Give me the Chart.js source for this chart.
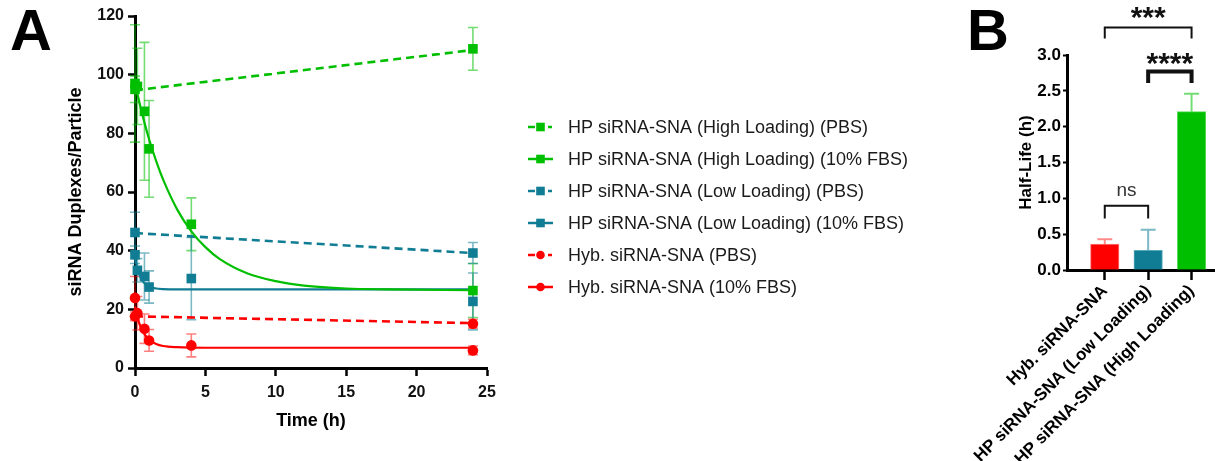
<!DOCTYPE html>
<html><head><meta charset="utf-8">
<script src="https://cdn.jsdelivr.net/npm/chart.js@4.4.1/dist/chart.umd.min.js"></script>
<style>
html,body{margin:0;padding:0;background:#fff;}
#wrap{position:relative;width:1215px;height:461px;overflow:hidden;background:#fff;}
#cA{position:absolute;left:0;top:0;}
#cB{position:absolute;left:960px;top:0;}
</style></head><body>
<div id="wrap"><canvas id="cA" width="960" height="461"></canvas><canvas id="cB" width="255" height="461"></canvas></div>
<script>
// ================= Panel A data =================
const timeTicks = [0, 5, 10, 15, 20, 25];
const yTicksA = [0, 20, 40, 60, 80, 100, 120];
const seriesLabels = [
  'HP siRNA-SNA (High Loading) (PBS)',
  'HP siRNA-SNA (High Loading) (10% FBS)',
  'HP siRNA-SNA (Low Loading) (PBS)',
  'HP siRNA-SNA (Low Loading) (10% FBS)',
  'Hyb. siRNA-SNA (PBS)',
  'Hyb. siRNA-SNA (10% FBS)'
];
const timesPBS = [0, 24];
const timesFBS = [0, 0.17, 0.67, 1, 4, 24];

const highPBS    = [95.0, 108.8];
const highPBSErr = [4.5, 7.3];
const highFBS    = [97.0, 96.0, 87.5, 74.7, 49.0, 26.4];
const highFBSErr = [20.0, 13.0, 23.5, 16.5, 9.0, 9.2];

const lowPBS     = [46.2, 39.2];
const lowPBSErr  = [6.9, 3.6];
const lowFBS     = [38.6, 33.3, 31.2, 27.6, 30.5, 22.7];
const lowFBSErr  = [3.0, 4.0, 8.0, 5.5, 14.0, 9.7];

const hybPBS     = [17.6, 15.1];
const hybPBSErr  = [1.5, 1.5];
const hybFBS     = [23.9, 18.7, 13.4, 9.4, 7.7, 6.0];
const hybFBSErr  = [7.3, 5.7, 5.0, 3.7, 3.9, 1.5];

// fitted lines
const lineTimesPBS = [0, 24];
const lineHighPBS  = [94.7, 108.4];
const lineLowPBS   = [46.0, 39.2];
const lineHybPBS   = [17.6, 15.3];
const fitTimesHigh = [0, 0.5, 1, 1.5, 2, 3, 4, 5, 6, 8, 10, 12, 15, 18, 24];
const fitHigh      = [97, 86.8, 78.0, 70.6, 64.2, 54.0, 46.6, 41.2, 37.2, 32.2, 29.6, 28.1, 27.1, 26.8, 26.5];
const fitTimesLow  = [0, 0.25, 0.5, 0.75, 1, 1.5, 2, 3, 24];
const fitLow       = [37.5, 32.6, 29.9, 28.5, 27.7, 27.1, 26.9, 26.8, 26.8];
const fitTimesHyb  = [0, 0.25, 0.5, 0.75, 1, 1.5, 2, 3, 5, 24];
const fitHyb       = [21.0, 16.0, 13.0, 11.0, 9.7, 8.2, 7.5, 7.1, 6.9, 6.9];

// ================= Panel B data =================
const groupsB = ['Hyb. siRNA-SNA', 'HP siRNA-SNA (Low Loading)', 'HP siRNA-SNA (High Loading)'];
const halfLife = [0.36, 0.275, 2.21];
const halfLifeErr = [0.07, 0.285, 0.25];
const yTicksB = [0, 0.5, 1.0, 1.5, 2.0, 2.5, 3.0];
const sigLabels = ['ns', '****', '***'];

// ================= styles =================
const FONT = "'Liberation Sans', Arial, Helvetica, sans-serif";
Chart.defaults.font.family = FONT;
const GREEN = '#00BF00', GREEN_E = 'rgba(0,191,0,0.55)';
const TEAL = '#117D94', TEAL_E = 'rgba(17,125,148,0.55)';
const RED = '#FF0000', RED_E = 'rgba(255,0,0,0.5)';

const seriesA = [
  {label: seriesLabels[0], t: timesPBS, v: highPBS, e: highPBSErr, lt: lineTimesPBS, lv: lineHighPBS, color: GREEN, ecolor: GREEN_E, style: 'rect', dashed: true},
  {label: seriesLabels[1], t: timesFBS, v: highFBS, e: highFBSErr, lt: fitTimesHigh, lv: fitHigh, color: GREEN, ecolor: GREEN_E, style: 'rect', dashed: false},
  {label: seriesLabels[2], t: timesPBS, v: lowPBS, e: lowPBSErr, lt: lineTimesPBS, lv: lineLowPBS, color: TEAL, ecolor: TEAL_E, style: 'rect', dashed: true},
  {label: seriesLabels[3], t: timesFBS, v: lowFBS, e: lowFBSErr, lt: fitTimesLow, lv: fitLow, color: TEAL, ecolor: TEAL_E, style: 'rect', dashed: false},
  {label: seriesLabels[4], t: timesPBS, v: hybPBS, e: hybPBSErr, lt: lineTimesPBS, lv: lineHybPBS, color: RED, ecolor: RED_E, style: 'circle', dashed: true},
  {label: seriesLabels[5], t: timesFBS, v: hybFBS, e: hybFBSErr, lt: fitTimesHyb, lv: fitHyb, color: RED, ecolor: RED_E, style: 'circle', dashed: false}
];

const dsA = [];
seriesA.forEach(s => {
  dsA.push({
    type: 'line', label: s.label + ' fit',
    data: s.lt.map((t, i) => ({x: t, y: s.lv[i]})),
    borderColor: s.color, borderWidth: s.dashed ? 2.6 : 2.2,
    borderDash: s.dashed ? [8, 5] : [], pointRadius: 0,
    cubicInterpolationMode: 'monotone', fill: false, clip: false, order: 2
  });
});
seriesA.forEach(s => {
  dsA.push({
    type: 'scatter', label: s.label,
    data: s.t.map((t, i) => ({x: t, y: s.v[i]})),
    showLine: false, pointStyle: s.style,
    pointRadius: s.style === 'rect' ? 6.8 : 5.3,
    pointBackgroundColor: s.color, pointBorderColor: s.color, pointBorderWidth: 0,
    errors: s.e, errorColor: s.ecolor, capHalf: 5, clip: false, order: 1
  });
});

function drawErrors(chart, upOnly) {
  const ctx = chart.ctx, xs = chart.scales.x, ys = chart.scales.y;
  chart.data.datasets.forEach((ds) => {
    if (!ds.errors) return;
    ctx.save();
    ctx.strokeStyle = ds.errorColor;
    ctx.lineWidth = ds.errorWidth || 1.6;
    ds.data.forEach((p, j) => {
      const e = ds.errors[j];
      if (e == null) return;
      const x = xs.getPixelForValue(p.x);
      const yT = ys.getPixelForValue(p.y + e);
      const yB = ys.getPixelForValue(upOnly ? p.y : p.y - e);
      const h = ds.capHalf || 5;
      ctx.beginPath();
      ctx.moveTo(x, yT); ctx.lineTo(x, yB);
      ctx.moveTo(x - h, yT); ctx.lineTo(x + h, yT);
      if (!upOnly) { ctx.moveTo(x - h, yB); ctx.lineTo(x + h, yB); }
      ctx.stroke();
    });
    ctx.restore();
  });
}

const errPluginA = { id: 'errA', beforeDatasetsDraw(chart) { drawErrors(chart, false); } };

const legendPluginA = {
  id: 'legA',
  afterDraw(chart) {
    const ctx = chart.ctx;
    ctx.save();
    seriesA.forEach((s, i) => {
      const y = 127 + i * 32;
      ctx.strokeStyle = s.color; ctx.fillStyle = s.color; ctx.lineWidth = 2.5;
      ctx.beginPath();
      if (s.dashed) {
        ctx.moveTo(528, y); ctx.lineTo(535, y);
        ctx.moveTo(548, y); ctx.lineTo(552, y);
      } else {
        ctx.moveTo(528, y); ctx.lineTo(553, y);
      }
      ctx.stroke();
      if (s.style === 'rect') ctx.fillRect(540.5 - 4.3, y - 4.3, 8.6, 8.6);
      else { ctx.beginPath(); ctx.arc(540.5, y, 4.3, 0, Math.PI * 2); ctx.fill(); }
      ctx.fillStyle = '#1a1a1a';
      ctx.font = '18px ' + FONT;
      ctx.textBaseline = 'middle'; ctx.textAlign = 'left';
      ctx.fillText(s.label, 568, y + 1);
    });
    ctx.fillStyle = '#000';
    ctx.font = 'bold 58px ' + FONT;
    ctx.textBaseline = 'alphabetic';
    ctx.fillText('A', 10, 50);
    ctx.restore();
  }
};

new Chart(document.getElementById('cA'), {
  type: 'scatter',
  data: { datasets: dsA },
  options: {
    responsive: false, animation: false, events: [],
    layout: { padding: { left: 0, right: 473, top: 16, bottom: 0 } },
    plugins: { legend: { display: false }, tooltip: { enabled: false } },
    scales: {
      x: {
        type: 'linear', min: 0, max: 25,
        afterBuildTicks: s => { s.ticks = timeTicks.map(v => ({ value: v })); },
        afterFit: s => { s.height = 93; },
        ticks: { font: { size: 16, weight: 'bold' }, color: '#111', padding: 7, maxRotation: 0, autoSkip: false },
        grid: { display: true, drawOnChartArea: false, drawTicks: true, tickLength: 8, tickWidth: 2.5, tickColor: '#000' },
        border: { display: true, color: '#000', width: 3 },
        title: { display: true, text: 'Time (h)', font: { size: 18, weight: 'bold' }, color: '#000', padding: { top: 0, bottom: 29 } }
      },
      y: {
        type: 'linear', min: 0, max: 120,
        afterBuildTicks: s => { s.ticks = yTicksA.map(v => ({ value: v })); },
        afterFit: s => { s.width = 135; },
        ticks: { font: { size: 16, weight: 'bold' }, color: '#111', padding: 4, autoSkip: false },
        grid: { display: true, drawOnChartArea: false, drawTicks: true, tickLength: 7, tickWidth: 2.5, tickColor: '#000' },
        border: { display: true, color: '#000', width: 3 },
        title: { display: true, text: 'siRNA Duplexes/Particle', font: { size: 18, weight: 'bold' }, color: '#000', padding: { top: 65, bottom: 0 } }
      }
    }
  },
  plugins: [errPluginA, legendPluginA]
});

// ================= Panel B =================
const bColors = [RED, TEAL, GREEN];
const bErrColors = ['rgba(255,60,60,0.6)', 'rgba(17,125,148,0.55)', 'rgba(0,191,0,0.55)'];
const bracketCfg = [
  { a: 0, b: 1, level: 0.895, leg: 0.72, lw: 2, text: sigLabels[0], font: '19px ' + FONT, color: '#333', dy: -9.5 },
  { a: 1, b: 2, level: 2.77, leg: 2.61, lw: 4, text: sigLabels[1], font: 'bold 30px ' + FONT, color: '#111', dy: 2 },
  { a: 0, b: 2, level: 3.385, leg: 3.23, lw: 2, text: sigLabels[2], font: 'bold 30px ' + FONT, color: '#111', dy: 0 }
];

const errPluginB = {
  id: 'errB',
  afterDatasetsDraw(chart) {
    const ctx = chart.ctx, xs = chart.scales.x, ys = chart.scales.y;
    ctx.save();
    halfLife.forEach((v, i) => {
      const x = xs.getPixelForValue(i + 1);
      const yT = ys.getPixelForValue(v + halfLifeErr[i]);
      const yB = ys.getPixelForValue(v);
      ctx.strokeStyle = bErrColors[i]; ctx.lineWidth = 2;
      ctx.beginPath();
      ctx.moveTo(x, yB); ctx.lineTo(x, yT);
      ctx.moveTo(x - 7.5, yT); ctx.lineTo(x + 7.5, yT);
      ctx.stroke();
    });
    bracketCfg.forEach(br => {
      const x1 = xs.getPixelForValue(br.a + 1), x2 = xs.getPixelForValue(br.b + 1);
      const yl = ys.getPixelForValue(br.level), yg = ys.getPixelForValue(br.leg);
      ctx.strokeStyle = '#111'; ctx.lineWidth = br.lw; ctx.lineJoin = 'miter';
      ctx.beginPath();
      ctx.moveTo(x1, yg); ctx.lineTo(x1, yl); ctx.lineTo(x2, yl); ctx.lineTo(x2, yg);
      ctx.stroke();
      ctx.fillStyle = br.color; ctx.font = br.font;
      ctx.textAlign = 'center'; ctx.textBaseline = 'alphabetic';
      ctx.fillText(br.text, (x1 + x2) / 2, yl + br.dy);
    });
    ctx.fillStyle = '#000';
    ctx.font = 'bold 58px ' + FONT;
    ctx.textAlign = 'left';
    ctx.fillText('B', 7, 50);
    ctx.restore();
  }
};

new Chart(document.getElementById('cB'), {
  type: 'bar',
  data: {
    datasets: [{
      data: halfLife.map((v, i) => ({ x: i + 1, y: v })),
      backgroundColor: bColors,
      borderColor: ['rgba(255,120,120,1)', 'rgba(90,170,190,1)', 'rgba(90,220,90,1)'],
      borderWidth: 1, barThickness: 28.5
    }]
  },
  options: {
    responsive: false, animation: false, events: [],
    layout: { padding: { left: 0, right: 0, top: 55, bottom: 0 } },
    plugins: { legend: { display: false }, tooltip: { enabled: false } },
    scales: {
      x: {
        type: 'linear', min: 0.13, max: 3.54, offset: false,
        afterBuildTicks: s => { s.ticks = groupsB.map((g, i) => ({ value: i + 1 })); },
        afterFit: s => { s.height = 191; },
        ticks: {
          callback: v => groupsB[Math.round(v) - 1] || '',
          font: { size: 17, weight: 'bold' }, color: '#000', minRotation: 45, maxRotation: 45, autoSkip: false, padding: 1
        },
        grid: { display: true, drawOnChartArea: false, drawTicks: true, tickLength: 10, tickWidth: 2.5, tickColor: '#000', offset: false },
        border: { display: true, color: '#000', width: 3 }
      },
      y: {
        type: 'linear', min: 0, max: 3,
        afterBuildTicks: s => { s.ticks = yTicksB.map(v => ({ value: v })); },
        afterFit: s => { s.width = 107; },
        ticks: { callback: v => v.toFixed(1), font: { size: 17, weight: 'bold' }, color: '#000', padding: 2, autoSkip: false },
        grid: { display: true, drawOnChartArea: false, drawTicks: true, tickLength: 4, tickWidth: 2, tickColor: '#000' },
        border: { display: true, color: '#000', width: 3 },
        title: { display: true, text: 'Half-Life (h)', font: { size: 17, weight: 'bold' }, color: '#000', padding: { top: 56, bottom: 0 } }
      }
    }
  },
  plugins: [errPluginB]
});
</script>
</body></html>
